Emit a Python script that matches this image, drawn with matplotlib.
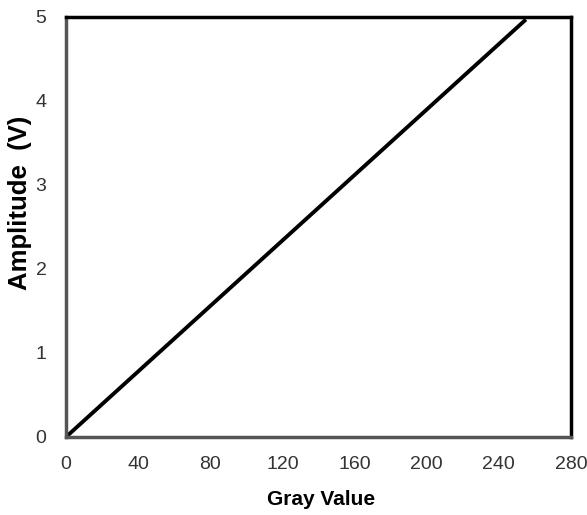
import matplotlib.pyplot as plt

plt.rcParams['font.family'] = ['Liberation Sans', 'DejaVu Sans']

# 数据：灰度值与幅值
gray_value = [0, 255]
amplitude = [0, 4.97]
x_ticks = [0, 40, 80, 120, 160, 200, 240, 280]
y_ticks = [0, 1, 2, 3, 4, 5]

fig = plt.figure(figsize=(5.87, 5.15), dpi=100)
ax = fig.add_axes([0.1124, 0.1515, 0.8603, 0.8155])

ax.plot(gray_value, amplitude, color='black', linewidth=2.8, solid_capstyle='butt')

ax.set_xlim(0, 280)
ax.set_ylim(0, 5)
ax.set_xticks(x_ticks)
ax.set_yticks(y_ticks)
ax.tick_params(length=0, labelcolor='#333333', labelsize=14)
ax.tick_params(axis='x', pad=14)
ax.tick_params(axis='y', pad=14)

for side in ['left', 'bottom']:
    ax.spines[side].set_color('#555555')
    ax.spines[side].set_linewidth(2.5)
for side in ['top', 'right']:
    ax.spines[side].set_color('black')
    ax.spines[side].set_linewidth(2.5)

ax.set_xlabel('Gray Value', fontsize=15, fontweight='bold')
ax.set_ylabel('Amplitude  (V)', fontsize=18.5, fontweight='bold')
ax.xaxis.set_label_coords(0.505, -0.126)
ax.yaxis.set_label_coords(-0.068, 0.557)

plt.savefig('out.png', dpi=100)
